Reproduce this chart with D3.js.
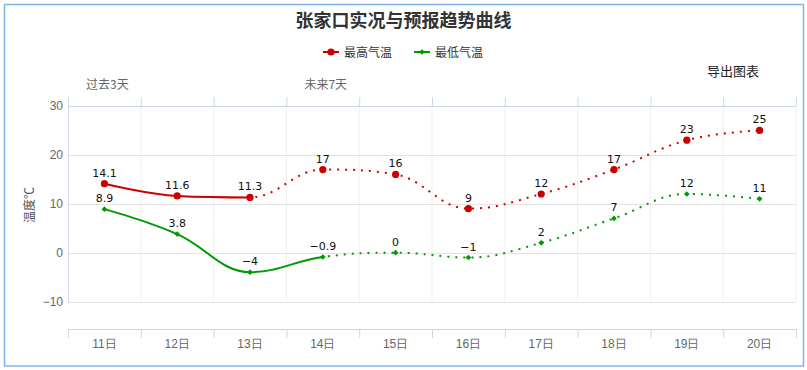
<!DOCTYPE html>
<html>
<head>
<meta charset="utf-8">
<script src="https://cdn.jsdelivr.net/npm/d3@7"></script>
<style>
  body { margin: 0; background: #fff; }
  svg { font-family: "Noto Sans CJK SC", "Liberation Sans", sans-serif; display: block; }
</style>
</head>
<body>
<script>
// data
var categories = ["11日", "12日", "13日", "14日", "15日", "16日", "17日", "18日", "19日", "20日"];
var maxTemp = [14.1, 11.6, 11.3, 17, 16, 9, 12, 17, 23, 25];
var minTemp = [8.9, 3.8, -4, -0.9, 0, -1, 2, 7, 12, 11];
var yTicks = [-10, 0, 10, 20, 30];
// top axis: label, category it sits over
var topLabels = [["过去3天", 0], ["未来7天", 3]];
// last category drawn with a solid line (dotted after that)
var maxSolidTo = 2, minSolidTo = 3;

var width = 807, height = 370;
var plotLeft = 68, plotRight = 796, plotTop = 106, plotBottom = 301.5;
var red = "#cc0000", green = "#009900";

var svg = d3.select("body").append("svg")
  .attr("width", width)
  .attr("height", height);

// outer frame
svg.append("rect")
  .attr("x", 4.5).attr("y", 4.5)
  .attr("width", 799).attr("height", 361.5)
  .attr("fill", "none")
  .attr("stroke", "#7cb5ec")
  .attr("stroke-width", 1.5);

var x = d3.scaleBand().domain(categories).range([plotLeft, plotRight]);
var y = d3.scaleLinear().domain([-10, 30]).range([plotBottom, plotTop]);
var cx = function(d){ return x(d) + x.bandwidth() / 2; };
var fmt = d3.format("~g");
var bounds = categories.map(function(d){ return x(d); }).concat([plotRight]);

// title
svg.append("text")
  .attr("x", width / 2).attr("y", 27)
  .attr("text-anchor", "middle")
  .attr("font-size", 18).attr("font-weight", "bold")
  .attr("fill", "#333")
  .text("张家口实况与预报趋势曲线");

// grid
svg.append("g").selectAll("line").data(bounds.slice(1))
  .enter().append("line")
  .attr("x1", function(d){ return d; }).attr("x2", function(d){ return d; })
  .attr("y1", plotTop).attr("y2", plotBottom)
  .attr("stroke", "#efefef");
svg.append("g").selectAll("line").data(yTicks)
  .enter().append("line")
  .attr("x1", plotLeft).attr("x2", plotRight)
  .attr("y1", function(d){ return Math.round(y(d)) + 0.5; })
  .attr("y2", function(d){ return Math.round(y(d)) + 0.5; })
  .attr("stroke", "#e3e3e3");

// y axis
var yAxis = svg.append("g")
  .attr("transform", "translate(" + plotLeft + ",0)")
  .call(d3.axisLeft(y).tickValues(yTicks).tickSize(0).tickPadding(5).tickFormat(fmt));
yAxis.select(".domain").attr("stroke", "#ccd6eb");
yAxis.selectAll("text").attr("fill", "#666").attr("font-size", 12)
  .attr("font-family", "'Liberation Sans', sans-serif");

svg.append("text")
  .attr("transform", "translate(34,205) rotate(-90)")
  .attr("text-anchor", "middle")
  .attr("font-size", 12).attr("fill", "#555")
  .text("温度℃");

// top axis (opposite)
svg.append("line")
  .attr("x1", plotLeft).attr("x2", plotRight)
  .attr("y1", plotTop + 0.5).attr("y2", plotTop + 0.5)
  .attr("stroke", "#ccd6eb");
svg.append("g").selectAll("line").data(bounds)
  .enter().append("line")
  .attr("x1", function(d){ return d + 0.5; }).attr("x2", function(d){ return d + 0.5; })
  .attr("y1", plotTop - 9).attr("y2", plotTop)
  .attr("stroke", "#ccd6eb");
svg.append("g").selectAll("text").data(topLabels)
  .enter().append("text")
  .attr("x", function(d){ return cx(categories[d[1]]) + 3; })
  .attr("y", 89)
  .attr("text-anchor", "middle")
  .attr("font-size", 12).attr("fill", "#666")
  .text(function(d){ return d[0]; });

// bottom axis, offset below the plot
var axisY = 329;
svg.append("line")
  .attr("x1", plotLeft).attr("x2", plotRight)
  .attr("y1", axisY + 0.5).attr("y2", axisY + 0.5)
  .attr("stroke", "#ccd6eb");
svg.append("g").selectAll("line").data(bounds)
  .enter().append("line")
  .attr("x1", function(d){ return d + 0.5; }).attr("x2", function(d){ return d + 0.5; })
  .attr("y1", axisY).attr("y2", axisY + 9)
  .attr("stroke", "#ccd6eb");
var xAxis = svg.append("g")
  .attr("transform", "translate(0," + axisY + ")")
  .call(d3.axisBottom(x).tickSize(0).tickPadding(10));
xAxis.select(".domain").remove();
xAxis.selectAll("text").attr("fill", "#666").attr("font-size", 12);

// Highcharts-like spline (smoothing 1.5, no false extremes)
function hcSpline(context) {
  var pts;
  return {
    areaStart: function(){}, areaEnd: function(){},
    lineStart: function(){ pts = []; },
    point: function(px, py){ pts.push([+px, +py]); },
    lineEnd: function(){
      var n = pts.length, s = 1.5, den = s + 1, c = [];
      pts.forEach(function(p, i){
        var o = { lx: p[0], ly: p[1], rx: p[0], ry: p[1] };
        if (i > 0 && i < n - 1) {
          var a = pts[i - 1], b = pts[i + 1];
          o.lx = (s * p[0] + a[0]) / den; o.ly = (s * p[1] + a[1]) / den;
          o.rx = (s * p[0] + b[0]) / den; o.ry = (s * p[1] + b[1]) / den;
          var corr = ((o.ry - o.ly) * (o.rx - p[0])) / (o.rx - o.lx) + p[1] - o.ry;
          o.ly += corr; o.ry += corr;
          if (o.ly > a[1] && o.ly > p[1]) { o.ly = Math.max(a[1], p[1]); o.ry = 2 * p[1] - o.ly; }
          else if (o.ly < a[1] && o.ly < p[1]) { o.ly = Math.min(a[1], p[1]); o.ry = 2 * p[1] - o.ly; }
          if (o.ry > b[1] && o.ry > p[1]) { o.ry = Math.max(b[1], p[1]); o.ly = 2 * p[1] - o.ry; }
          else if (o.ry < b[1] && o.ry < p[1]) { o.ry = Math.min(b[1], p[1]); o.ly = 2 * p[1] - o.ry; }
        }
        c.push(o);
      });
      context.moveTo(pts[0][0], pts[0][1]);
      for (var i = 1; i < n; i++) {
        context.bezierCurveTo(c[i - 1].rx, c[i - 1].ry, c[i].lx, c[i].ly, pts[i][0], pts[i][1]);
      }
    }
  };
}

var line = d3.line()
  .x(function(d, i){ return cx(categories[i]); })
  .y(function(d){ return y(d); })
  .curve(hcSpline);

function drawSeries(name, values, color, solidTo, marker) {
  var cut = cx(categories[solidTo]);
  var defs = svg.append("defs");
  defs.append("clipPath").attr("id", name + "-solid")
    .append("rect").attr("x", 0).attr("y", 0).attr("width", cut).attr("height", height);
  defs.append("clipPath").attr("id", name + "-dot")
    .append("rect").attr("x", cut).attr("y", 0).attr("width", width - cut).attr("height", height);

  var g = svg.append("g");
  g.append("path").datum(values)
    .attr("d", line)
    .attr("fill", "none").attr("stroke", color).attr("stroke-width", 2)
    .attr("stroke-linejoin", "round").attr("stroke-linecap", "round")
    .attr("clip-path", "url(#" + name + "-solid)");
  g.append("path").datum(values)
    .attr("d", line)
    .attr("fill", "none").attr("stroke", color).attr("stroke-width", 2)
    .attr("stroke-dasharray", "2,6")
    .attr("clip-path", "url(#" + name + "-dot)");

  var sym = marker === "circle" ? d3.symbol(d3.symbolCircle, Math.PI * 3.6 * 3.6)
                                : d3.symbol(d3.symbolDiamond2, 2 * 3.2 * 3.2);
  g.selectAll(".pt").data(values).enter().append("path")
    .attr("class", "pt")
    .attr("transform", function(d, i){ return "translate(" + cx(categories[i]) + "," + y(d) + ")"; })
    .attr("d", sym)
    .attr("fill", color);

  g.selectAll(".lbl").data(values).enter().append("text")
    .attr("class", "lbl")
    .attr("x", function(d, i){ return cx(categories[i]); })
    .attr("y", function(d){ return y(d) - 7; })
    .attr("text-anchor", "middle")
    .attr("font-size", 11).attr("fill", "#111")
    .attr("font-family", "'DejaVu Sans', sans-serif")
    .text(function(d){ return fmt(d); });
}

drawSeries("max", maxTemp, red, maxSolidTo, "circle");
drawSeries("min", minTemp, green, minSolidTo, "diamond");

// legend
var legend = [["最高气温", red, "circle", 323], ["最低气温", green, "diamond", 414]];
var lg = svg.append("g").selectAll("g").data(legend).enter().append("g")
  .attr("transform", function(d){ return "translate(" + d[3] + ",52)"; });
lg.append("line").attr("x1", 0).attr("x2", 16).attr("y1", 0).attr("y2", 0)
  .attr("stroke", function(d){ return d[1]; }).attr("stroke-width", 2);
lg.append("path")
  .attr("transform", "translate(8,0)")
  .attr("d", function(d){
    return d[2] === "circle" ? d3.symbol(d3.symbolCircle, Math.PI * 3.6 * 3.6)()
                             : d3.symbol(d3.symbolDiamond2, 2 * 3.2 * 3.2)();
  })
  .attr("fill", function(d){ return d[1]; });
lg.append("text").attr("x", 21).attr("y", 4.5)
  .attr("font-size", 12).attr("fill", "#333")
  .text(function(d){ return d[0]; });

// export button text
svg.append("text")
  .attr("x", 707).attr("y", 76)
  .attr("font-size", 13).attr("fill", "#222")
  .text("导出图表");
</script>
</body>
</html>
